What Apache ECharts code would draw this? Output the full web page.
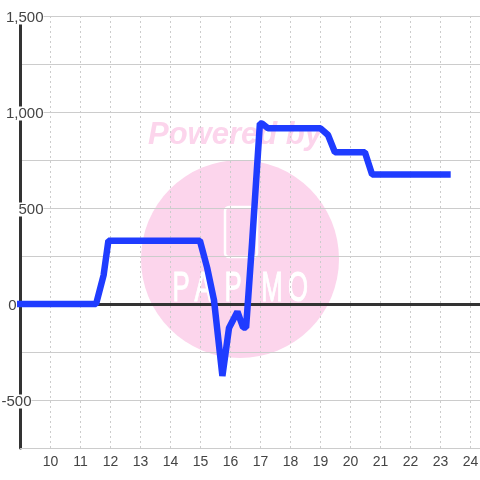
<!DOCTYPE html>
<html><head><meta charset="utf-8">
<style>html,body{margin:0;padding:0;background:#fff}#c{width:480px;height:480px}</style>
<script src="https://cdn.jsdelivr.net/npm/echarts@6/dist/echarts.min.js"></script>
</head><body><div id="c"></div>
<script>
const xValues=[8.88,11.52,11.77,11.93,14.98,15.22,15.45,15.73,15.95,16.23,16.42,16.52,16.72,16.98,17.05,17.25,19,19.25,19.48,20.48,20.72,23.34];
const yValues=[0,0,150,330,330,190,20,-375,-125,-40,-122,-122,320,940,940,915,915,880,790,790,675,675];
const watermarkTitle='Powered by';
const watermarkLetters=['P','A','P','M','O'];
const pink='#fcd5ec';
const chart=echarts.init(document.getElementById('c'),null,{renderer:'canvas'});
const F='"Liberation Sans",Arial,sans-serif';
const gap=w=>({width:w,height:1});
const letterX=[181,203,233,272,298];
chart.setOption({
 animation:false,backgroundColor:'#fff',
 grid:{left:20.5,right:-1,top:16,bottom:32,containLabel:false,outerBoundsMode:'none'},
 graphic:{elements:[
  {type:'circle',z:-10,shape:{cx:240,cy:259,r:99},style:{fill:pink},silent:true},
  {type:'text',z:-9,x:235,y:135,style:{text:watermarkTitle,fill:pink,font:'italic bold 31px "Liberation Sans"',align:'center',verticalAlign:'middle'},silent:true},
  {type:'rect',z:-9,shape:{x:225,y:207,width:32,height:50,r:4},style:{fill:'none',stroke:'#fff',lineWidth:2.5},silent:true}
 ].concat(watermarkLetters.map((c,i)=>(
  {type:'text',z:-9,x:letterX[i],y:289,scaleX:0.6,style:{text:c,fill:'#fff',stroke:'#fff',lineWidth:1,font:'43px "Liberation Sans"',align:'center',verticalAlign:'middle'},silent:true}
 )))},
 xAxis:[{type:'value',min:9,max:24.35,interval:1,position:'bottom',
   axisLine:{show:true,onZero:false,lineStyle:{color:'#ccc',width:1}},
   axisTick:{show:false},
   axisLabel:{color:'#444',fontFamily:F,fontSize:14,margin:7,showMaxLabel:false,showMinLabel:false},
   splitLine:{show:true,lineStyle:{color:'#ccc',type:[2,3],width:1}}},
  {type:'value',min:9,max:24.35,interval:1,position:'top',
   axisLine:{show:true,onZero:true,lineStyle:{color:'#333',width:3}},
   axisTick:{show:false},axisLabel:{show:false},splitLine:{show:false}}],
 yAxis:{type:'value',min:-750,max:1500,interval:250,
   axisLine:{show:true,onZero:false,lineStyle:{color:'#333',width:3}},
   axisTick:{show:false},
   axisLabel:{margin:-23,padding:[3,0,0,0],
     formatter:v=>{
       if(v===0)return '{t|0}{g2| }';
       if(v===-500)return '{t|-500}{g1| }';
       if(Math.abs(v)%500!==0)return '';
       return '{t|'+echarts.format.addCommas(v)+'}';
     },
     rich:{
       t:{color:'#444',fontFamily:F,fontSize:15,backgroundColor:'#fff',height:14,lineHeight:14},
       g1:gap(12),g2:gap(27)
     }},
   splitLine:{show:true,lineStyle:{color:'#ccc',width:1}}},
 series:[{type:'line',xAxisIndex:0,clip:false,showSymbol:false,symbol:'none',
   data:xValues.map((x,i)=>[x,yValues[i]]),
   lineStyle:{color:'#1f3cff',width:6.5,join:'bevel'},z:5}]
});
</script></body></html>
